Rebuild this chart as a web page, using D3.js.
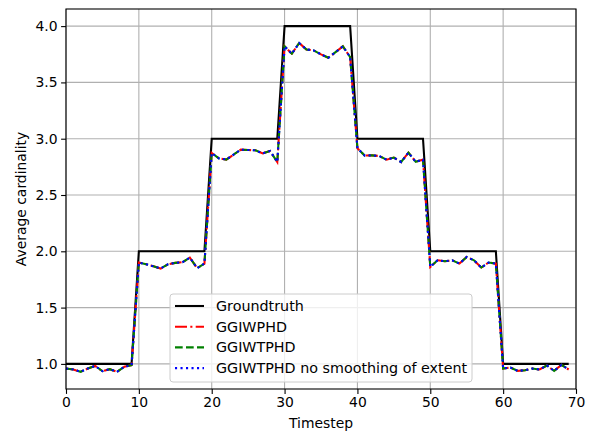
<!DOCTYPE html>
<html>
<head>
<meta charset="utf-8">
<script src="https://cdn.jsdelivr.net/npm/d3@7"></script>
<style>
  body { margin: 0; background: #fff; }
  text { font-family: "DejaVu Sans", sans-serif; fill: #000; }
</style>
</head>
<body>
<div id="chart"></div>
<script>
// timesteps 0..69
var timesteps = d3.range(0, 70);

var groundtruth = [
  1, 1, 1, 1, 1, 1, 1, 1, 1, 1,
  2, 2, 2, 2, 2, 2, 2, 2, 2, 2,
  3, 3, 3, 3, 3, 3, 3, 3, 3, 3,
  4, 4, 4, 4, 4, 4, 4, 4, 4, 4,
  3, 3, 3, 3, 3, 3, 3, 3, 3, 3,
  2, 2, 2, 2, 2, 2, 2, 2, 2, 2,
  1, 1, 1, 1, 1, 1, 1, 1, 1, 1
];

var ggiwphd = [
  0.959, 0.950, 0.930, 0.959, 0.982, 0.935, 0.953, 0.930, 0.974, 0.988,
  1.900, 1.885, 1.867, 1.847, 1.885, 1.897, 1.903, 1.944, 1.850, 1.891,
  2.873, 2.825, 2.815, 2.858, 2.903, 2.900, 2.897, 2.870, 2.891, 2.793,
  3.820, 3.755, 3.850, 3.793, 3.784, 3.749, 3.719, 3.769, 3.820, 3.725,
  2.915, 2.850, 2.852, 2.846, 2.814, 2.832, 2.793, 2.876, 2.795, 2.814,
  1.861, 1.920, 1.911, 1.920, 1.891, 1.950, 1.920, 1.856, 1.900, 1.891,
  0.959, 0.968, 0.938, 0.944, 0.959, 0.950, 0.986, 0.938, 0.991, 0.950
];

var ggiwtphd = [
  0.959, 0.950, 0.930, 0.959, 0.982, 0.935, 0.953, 0.930, 0.974, 0.988,
  1.900, 1.885, 1.867, 1.847, 1.885, 1.897, 1.903, 1.944, 1.850, 1.891,
  2.873, 2.825, 2.815, 2.858, 2.903, 2.900, 2.897, 2.870, 2.891, 2.793,
  3.820, 3.755, 3.850, 3.793, 3.784, 3.749, 3.719, 3.769, 3.820, 3.725,
  2.915, 2.850, 2.852, 2.846, 2.814, 2.832, 2.793, 2.876, 2.795, 2.814,
  1.861, 1.920, 1.911, 1.920, 1.891, 1.950, 1.920, 1.856, 1.900, 1.891,
  0.959, 0.968, 0.938, 0.944, 0.959, 0.950, 0.986, 0.938, 0.991, 0.950
];

var ggiwtphdNoSmooth = [
  0.959, 0.950, 0.930, 0.959, 0.982, 0.935, 0.953, 0.930, 0.974, 0.988,
  1.900, 1.885, 1.867, 1.847, 1.885, 1.897, 1.903, 1.944, 1.850, 1.891,
  2.873, 2.825, 2.815, 2.858, 2.903, 2.900, 2.897, 2.870, 2.891, 2.793,
  3.820, 3.755, 3.850, 3.793, 3.784, 3.749, 3.719, 3.769, 3.820, 3.725,
  2.915, 2.850, 2.852, 2.846, 2.814, 2.832, 2.793, 2.876, 2.795, 2.814,
  1.861, 1.920, 1.911, 1.920, 1.891, 1.950, 1.920, 1.856, 1.900, 1.891,
  0.959, 0.968, 0.938, 0.944, 0.959, 0.950, 0.986, 0.938, 0.991, 0.950
];

var xTicks = [0, 10, 20, 30, 40, 50, 60, 70];
var yTicks = [1.0, 1.5, 2.0, 2.5, 3.0, 3.5, 4.0];

var seriesNames = ["Groundtruth", "GGIWPHD", "GGIWTPHD", "GGIWTPHD no smoothing of extent"];

var svgWidth = 593;
var svgHeight = 436;

var margin = { top: 9, right: 17, bottom: 47, left: 66 };
var width = svgWidth - margin.left - margin.right;
var height = svgHeight - margin.top - margin.bottom;

var svg = d3.select("#chart")
  .append("svg")
  .attr("width", svgWidth)
  .attr("height", svgHeight);

svg.append("rect")
  .attr("width", svgWidth)
  .attr("height", svgHeight)
  .attr("fill", "#fff");

var chartGroup = svg.append("g")
  .attr("transform", `translate(${margin.left}, ${margin.top})`);

// scales
var xScale = d3.scaleLinear().domain([0, 70]).range([0, width]);
var yScale = d3.scaleLinear().domain([0.777, 4.152]).range([height, 0]);

// grid
chartGroup.append("g")
  .selectAll("line")
  .data(xTicks)
  .enter()
  .append("line")
  .attr("x1", d => xScale(d))
  .attr("x2", d => xScale(d))
  .attr("y1", 0)
  .attr("y2", height)
  .attr("stroke", "#b0b0b0")
  .attr("stroke-width", 1.1);

chartGroup.append("g")
  .selectAll("line")
  .data(yTicks)
  .enter()
  .append("line")
  .attr("x1", 0)
  .attr("x2", width)
  .attr("y1", d => yScale(d))
  .attr("y2", d => yScale(d))
  .attr("stroke", "#b0b0b0")
  .attr("stroke-width", 1.1);

// axes
var bottomAxis = d3.axisBottom(xScale)
  .tickValues(xTicks)
  .tickSize(4.9)
  .tickPadding(3.5)
  .tickFormat(d3.format("d"));
var leftAxis = d3.axisLeft(yScale)
  .tickValues(yTicks)
  .tickSize(4.9)
  .tickPadding(3.5)
  .tickFormat(d3.format(".1f"));

var xAxisG = chartGroup.append("g")
  .attr("transform", `translate(0, ${height})`)
  .call(bottomAxis);
var yAxisG = chartGroup.append("g")
  .call(leftAxis);

[xAxisG, yAxisG].forEach(function(g) {
  g.select(".domain").remove();
  g.selectAll("line").attr("stroke", "#000").attr("stroke-width", 1.1);
  g.selectAll("text")
    .style("font-family", "DejaVu Sans, sans-serif")
    .style("font-size", "13.9px")
    .attr("fill", "#000");
});

// lines
var line = function(values) {
  return d3.line()
    .x((d, i) => xScale(timesteps[i]))
    .y(d => yScale(d))(values);
};

var lineStyles = [
  { values: groundtruth, color: "#000000", dash: null },
  { values: ggiwphd, color: "#ff0000", dash: "12,3.3,2.1,3.3" },
  { values: ggiwtphd, color: "#008000", dash: "7.7,3.3" },
  { values: ggiwtphdNoSmooth, color: "#0000ff", dash: "2.1,3.4" }
];

lineStyles.forEach(function(s) {
  chartGroup.append("path")
    .attr("d", line(s.values))
    .attr("fill", "none")
    .attr("stroke", s.color)
    .attr("stroke-width", 2.08)
    .attr("stroke-dasharray", s.dash);
});

// spines
chartGroup.append("rect")
  .attr("width", width)
  .attr("height", height)
  .attr("fill", "none")
  .attr("stroke", "#000")
  .attr("stroke-width", 1.1);

// legend
var legend = chartGroup.append("g")
  .attr("transform", `translate(${104}, ${285})`);

legend.append("rect")
  .attr("width", 302)
  .attr("height", 88)
  .attr("rx", 3)
  .attr("fill", "#fff")
  .attr("fill-opacity", 0.8)
  .attr("stroke", "#cccccc")
  .attr("stroke-width", 1);

var rows = legend.selectAll("g.row")
  .data(lineStyles)
  .enter()
  .append("g")
  .attr("class", "row")
  .attr("transform", (d, i) => `translate(0, ${12 + i * 20.7})`);

rows.append("line")
  .attr("x1", 5)
  .attr("x2", 34)
  .attr("y1", 0)
  .attr("y2", 0)
  .attr("stroke", d => d.color)
  .attr("stroke-width", 2.08)
  .attr("stroke-dasharray", d => d.dash);

rows.append("text")
  .attr("x", 46)
  .attr("y", 5)
  .style("font-size", "14.3px")
  .text((d, i) => seriesNames[i]);

// labels
chartGroup.append("text")
  .attr("transform", "rotate(-90)")
  .attr("x", -height / 2)
  .attr("y", -40)
  .attr("text-anchor", "middle")
  .style("font-size", "13.9px")
  .text("Average cardinality");

chartGroup.append("text")
  .attr("x", width / 2)
  .attr("y", height + 39)
  .attr("text-anchor", "middle")
  .style("font-size", "13.9px")
  .text("Timestep");
</script>
</body>
</html>
